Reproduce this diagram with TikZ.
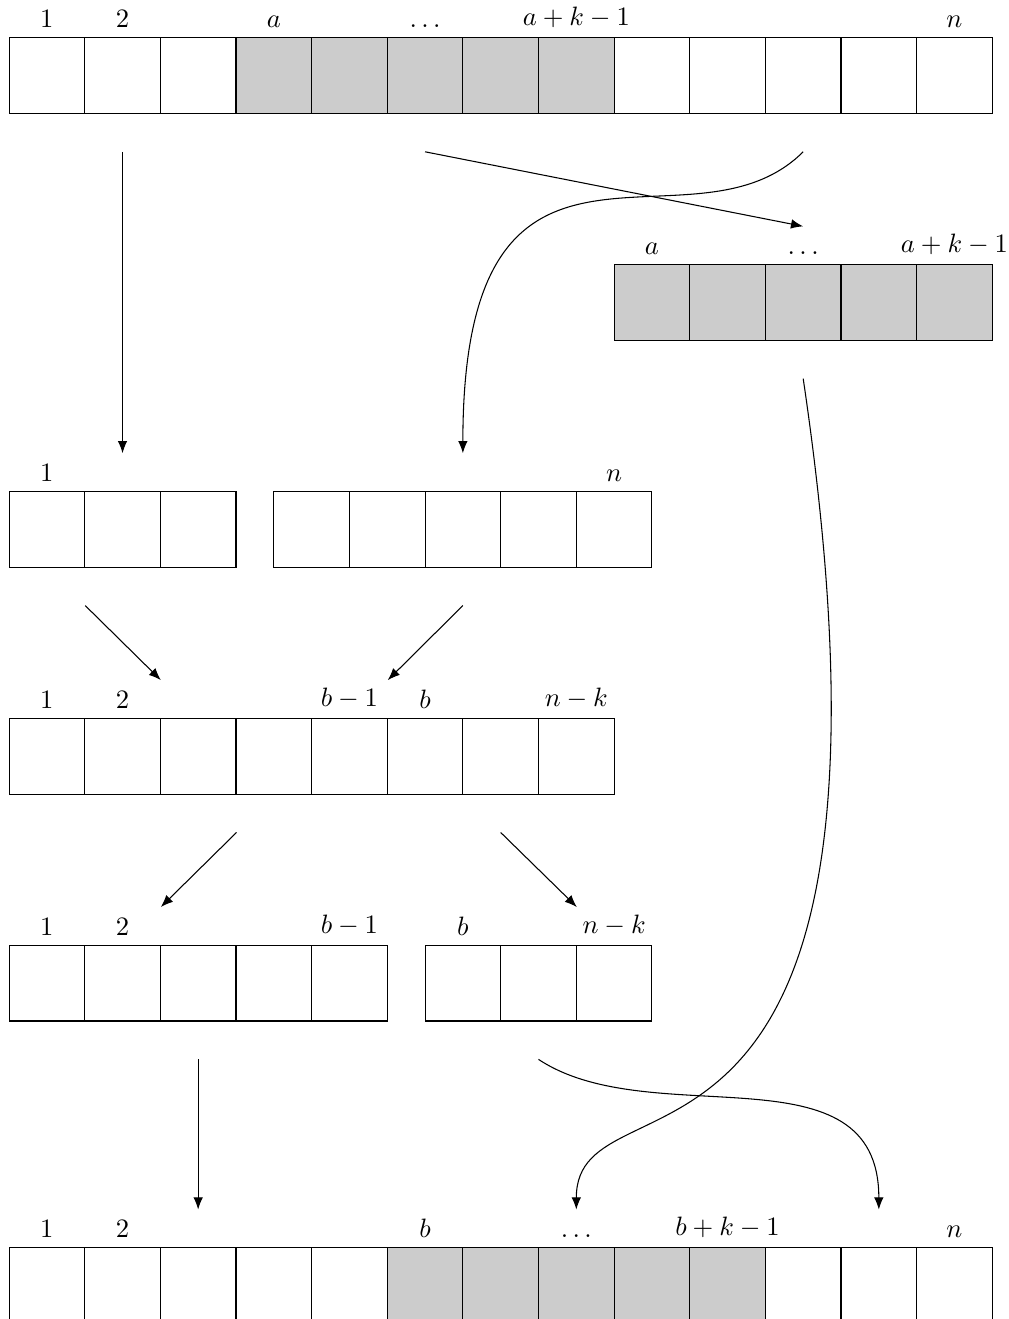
\documentclass[tikz,border=0pt]{standalone}
\usepackage{amsmath}
\usepackage{amssymb}
\usepackage{xcolor}
\usepackage{tikz}
\usetikzlibrary{positioning, arrows.meta}

\begin{document}
\begin{tikzpicture}[>={Latex[length=4.6pt, width=3.6pt]}]
			\tikzstyle{cell}=[draw, minimum size=1cm, inner sep=0pt];
			\tikzstyle{marked}=[cell, fill=gray!40];
			\useasboundingbox (-0.12, 0.5) rectangle (13.21, -16.94);
			
			%Original array
			\foreach \i in {1,2,3,9,10,11,12,13} \node[cell] (top\i) at (\i-0.5, -0.5) {};
			\foreach \i in {4,...,8} \node[marked] (top\i) at (\i-0.5, -0.5) {};
			\node[above] (ltop1) at (top1.north) {\( 1 \)};
			\node[above] (ltop2) at (top2.north) {\( 2 \)};
			\node[above] (ltop4) at (top4.north) {\( a \)};
			\node[above] (ltop6) at (top6.north) {\( \dots \)};
			\node[above] (ltop8) at (top8.north) {\( a+k-1 \)};
			\node[above] (ltop13) at (top13.north) {\( n \)};
			
			%Cut out block
			\foreach \i in {1,...,5} \node[marked] (blk\i) at (7.5+\i, -3.5) {};
			\node[above] (lblk1) at (blk1.north) {\( a \)};
			\node[above] (lblk3) at (blk3.north) {\( \dots \)};
			\node[above] (lblk5) at (blk5.north) {\( a+k-1 \)};
			
			%Remaining pieces
			\foreach \i in {1,2,3} \node[cell] (lft\i) at (\i-0.5, -6.5) {};
			\foreach \i in {1,...,5} \node[cell] (rgt\i) at (3+\i, -6.5) {};
			\node[above] (llft1) at (lft1.north) {\( 1 \)};
			\node[above] (lrgt5) at (rgt5.north) {\( n \)};
			
			%Joined
			\foreach \i in {1,...,8} \node[cell] (mid\i) at (\i-0.5, -9.5) {};
			\node[above] (lmid1) at (mid1.north) {\( 1 \)};
			\node[above] (lmid2) at (mid2.north) {\( 2 \)};
			\node[above] (lmid5) at (mid5.north) {\( b-1 \)};
			\node[above] (lmid6) at (mid6.north) {\( b \)};
			\node[above] (lmid8) at (mid8.north) {\( n-k \)};
			
			%Split at b
			\foreach \i in {1,...,5} \node[cell] (fst\i) at (\i-0.5, -12.5) {};
			\foreach \i in {1,2,3} \node[cell] (snd\i) at (5+\i, -12.5) {};
			\node[above] (lfst1) at (fst1.north) {\( 1 \)};
			\node[above] (lfst2) at (fst2.north) {\( 2 \)};
			\node[above] (lfst5) at (fst5.north) {\( b-1 \)};
			\node[above] (lsnd1) at (snd1.north) {\( b \)};
			\node[above] (lsnd3) at (snd3.north) {\( n-k \)};
			
			%Result
			\foreach \i in {1,...,5,11,12,13} \node[cell] (bot\i) at (\i-0.5, -16.5) {};
			\foreach \i in {6,...,10} \node[marked] (bot\i) at (\i-0.5, -16.5) {};
			\node[above] (lbot1) at (bot1.north) {\( 1 \)};
			\node[above] (lbot2) at (bot2.north) {\( 2 \)};
			\node[above] (lbot6) at (bot6.north) {\( b \)};
			\node[above] (lbot8) at (bot8.north) {\( \dots \)};
			\node[above] (lbot10) at (bot10.north) {\( b+k-1 \)};
			\node[above] (lbot13) at (bot13.north) {\( n \)};
			
			%Arrow ends
			\coordinate[below=0.5cm of top2] (s1);
			\coordinate[above=0.5cm of lft2] (e1);
			\coordinate[below=0.5cm of top6] (s2);
			\coordinate[above=0.5cm of blk3] (e2);
			\coordinate[below=0.5cm of top11] (s3);
			\coordinate[above=0.5cm of rgt3] (e3);
			\coordinate[below=0.5cm of blk3] (s4);
			\coordinate[above=0.5cm of bot8] (e4);
			\coordinate[below=0.5cm of lft1.south east] (s5);
			\coordinate[above=0.5cm of mid2.north east] (e5);
			\coordinate[below=0.5cm of rgt3] (s6);
			\coordinate[above=0.5cm of mid5.north east] (e6);
			\coordinate[below=0.5cm of mid3.south east] (s7);
			\coordinate[above=0.5cm of fst2.north east] (e7);
			\coordinate[below=0.5cm of mid7] (s8);
			\coordinate[above=0.5cm of snd2.north east] (e8);
			\coordinate[below=0.5cm of fst3] (s9);
			\coordinate[above=0.5cm of bot3] (e9);
			\coordinate[below=0.5cm of snd2] (s10);
			\coordinate[above=0.5cm of bot12] (e10);
			
			%Arrows
			\draw[->] (s1) -- (e1);
			\draw[->] (s2) -- (e2);
			\draw[->] (s3) .. controls (9, -3) and (6, -0.5) .. (e3);
			\draw[->] (s4) .. controls (12.2, -16) and (7.5, -13.5) .. (e4);
			\draw[->] (s5) -- (e5);
			\draw[->] (s6) -- (e6);
			\draw[->] (s7) -- (e7);
			\draw[->] (s8) -- (e8);
			\draw[->] (s9) -- (e9);
			\draw[->] (s10) .. controls (8.5, -14.5) and (11.5, -13.3) .. (e10);
\end{tikzpicture}
\end{document}
